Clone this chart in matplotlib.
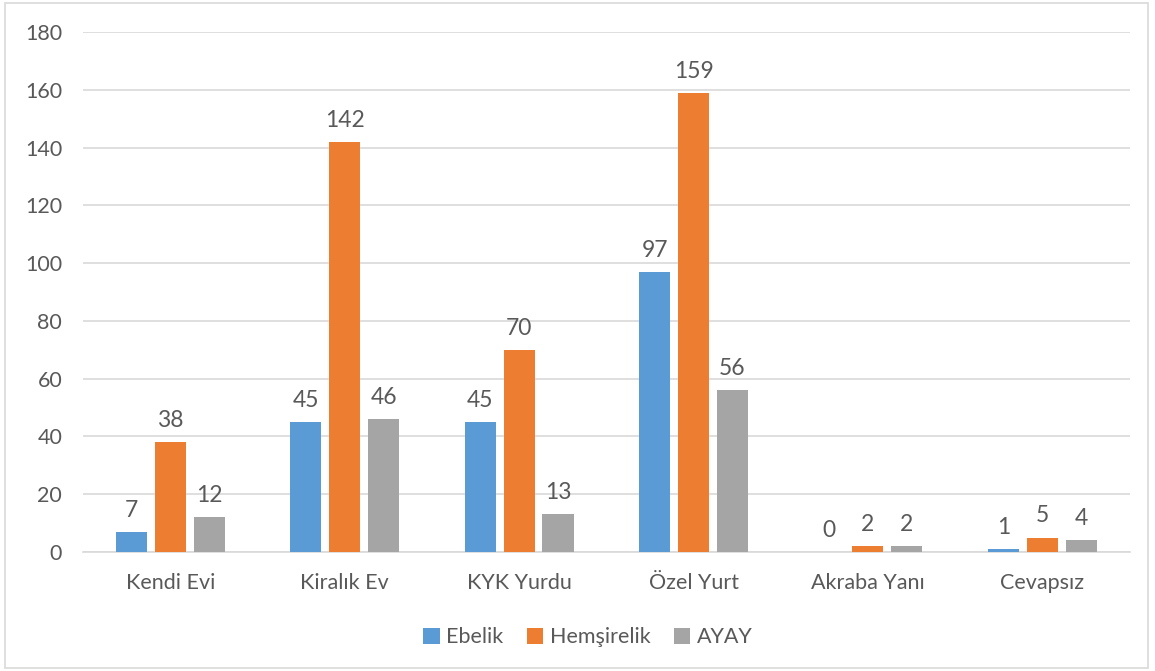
import matplotlib
matplotlib.use("Agg")
import matplotlib.pyplot as plt
import numpy as np
from matplotlib.patches import Rectangle

plt.rcParams['font.family'] = ['Lato', 'DejaVu Sans']

categories = ['Kendi Evi', 'Kiralık Ev', 'KYK Yurdu', 'Özel Yurt', 'Akraba Yanı', 'Cevapsız']
ebelik = [7, 45, 45, 97, 0, 1]
hemsirelik = [38, 142, 70, 159, 2, 5]
ayay = [12, 46, 13, 56, 2, 4]
series_names = ['Ebelik', 'Hemşirelik', 'AYAY']
colors = ['#5B9BD5', '#ED7D31', '#A5A5A5']
text_color = '#595959'

fig = plt.figure(figsize=(11.55, 6.71), dpi=100)
ax = fig.add_axes([0.0719, 0.1773, 0.9061, 0.775])

x = np.arange(len(categories))
width = 0.178
step = 0.223
for i, (vals, name, c) in enumerate(zip([ebelik, hemsirelik, ayay], series_names, colors)):
    bars = ax.bar(x + (i - 1) * step, vals, width, color=c, label=name, zorder=3)
    ax.bar_label(bars, labels=[str(v) for v in vals], padding=8,
                 fontsize=16.5, color=text_color)

ax.set_xlim(-0.5, len(categories) - 0.5)
ax.set_ylim(0, 180)
ax.set_yticks(range(0, 181, 20))
ax.set_xticks(x)
ax.set_xticklabels(categories)
ax.tick_params(axis='both', length=0, labelsize=15.5, colors=text_color)
ax.tick_params(axis='x', pad=15)
ax.tick_params(axis='y', pad=15)
ax.grid(axis='y', color='#D9D9D9', linewidth=1.2, zorder=0)
for s in ['top', 'right', 'left']:
    ax.spines[s].set_visible(False)
ax.spines['bottom'].set_color('#D9D9D9')
ax.spines['bottom'].set_linewidth(1.2)

leg = fig.legend(loc='center', bbox_to_anchor=(0.509, 0.05), ncol=3, frameon=False,
                 fontsize=15.5, handlelength=0.75, handleheight=0.75,
                 handletextpad=0.3, columnspacing=1.1)
for t in leg.get_texts():
    t.set_color(text_color)

fig.patches.append(Rectangle((0.004, 0.005), 0.99, 0.99, transform=fig.transFigure,
                             fill=False, edgecolor='#D9D9D9', linewidth=1.2))

fig.savefig('out.png', dpi=100, facecolor='white')
